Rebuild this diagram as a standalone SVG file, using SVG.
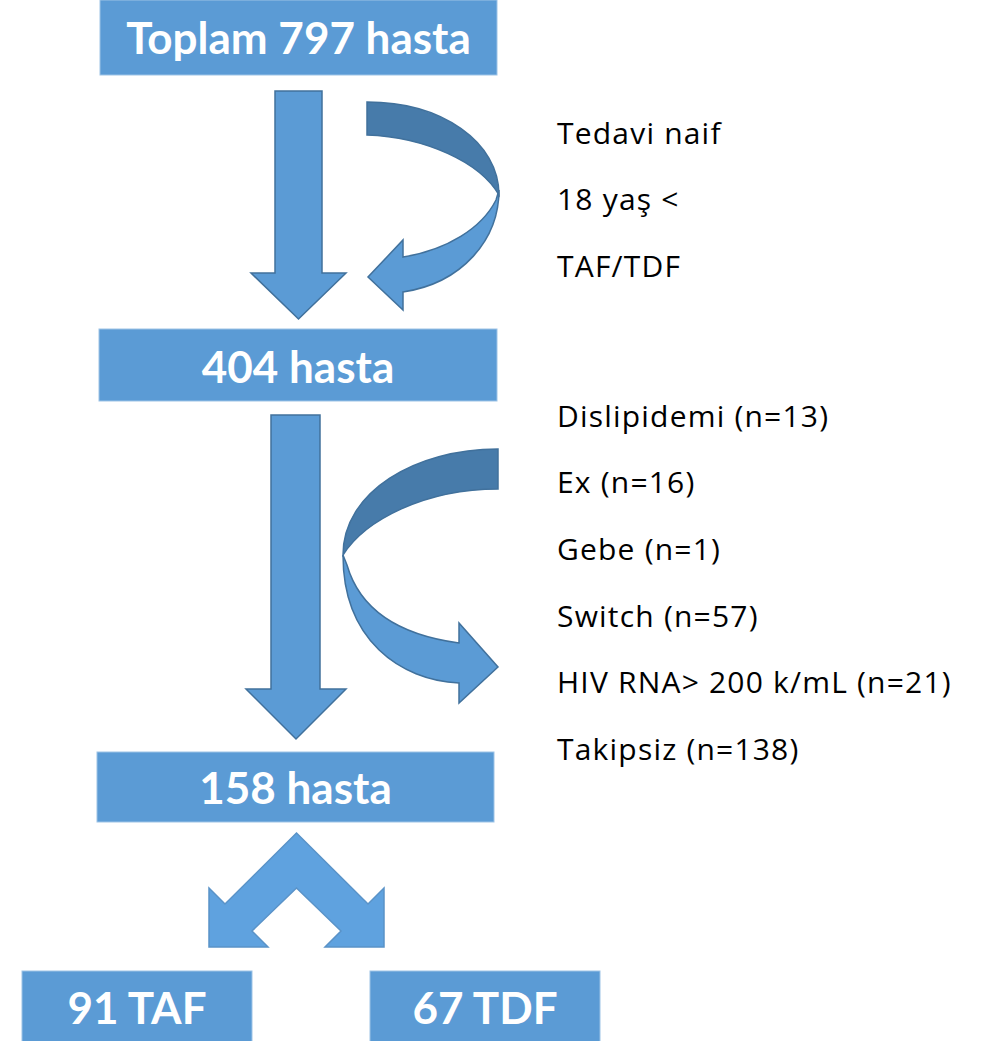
<svg xmlns="http://www.w3.org/2000/svg" width="1000" height="1041" viewBox="0 0 1000 1041">
<style>
.box{fill:#5B9BD5;stroke:#9DC3E6;stroke-width:1}
.bt{font-family:Lato,"Open Sans","Liberation Sans",sans-serif;font-weight:bold;font-size:44px;fill:#FFFFFF;text-anchor:middle}
.lbl{font-family:"Open Sans","Noto Sans","Liberation Sans",sans-serif;font-size:30px;fill:#000000;letter-spacing:1.2px}
.arr{fill:#5B9BD5;stroke:#41719C;stroke-width:1.5;stroke-linejoin:miter}
.dark{fill:#477BAA;stroke:#41719C;stroke-width:1.5}
.split{fill:#5FA2DF;stroke:#5A93C8;stroke-width:1.5}
</style>
<rect width="1000" height="1041" fill="#FFFFFF"/>
<g id="connectors">
  <path class="arr" d="M275,91 L322,91 L322,273 L346,273 L298.5,319 L251,273 L275,273 Z"/>
  <path class="dark" d="M367,102 C442,102 499,142 499,195 C480,162 425,137 367,135 Z"/>
  <path class="arr" d="M499,190 C499,240 462,283 403,292 L403,310 L368,277 L403,240 L403,257 C447,250 482,228 496,200 Z"/>
  <path class="arr" d="M271,415 L320,415 L320,689 L346,689 L296,739 L246,689 L271,689 Z"/>
  <path class="dark" d="M498,449 C415,449 343,492 343,555 C365,520 425,489 498,489 Z"/>
  <path class="arr" d="M343,555 C343,640 400,680 459,683 L459,703 L498,667 L459,623 L459,643 C400,635 360,610 347,565 Z"/>
  <path class="split" d="M296.5,833 L368,904 L384,888 L384,947 L325,947 L341,931 L296.5,888 L252,931 L268,947 L209,947 L209,888 L225,904 Z"/>
</g>
<g id="node-total">
  <rect class="box" x="100" y="0" width="397" height="75"/>
  <text class="bt" x="298.5" y="54">Toplam 797 hasta</text>
</g>
<g id="node-404">
  <rect class="box" x="99" y="329" width="398" height="72"/>
  <text class="bt" x="298" y="383">404 hasta</text>
</g>
<g id="node-158">
  <rect class="box" x="97" y="752" width="397" height="70"/>
  <text class="bt" x="295.5" y="804">158 hasta</text>
</g>
<g id="node-taf">
  <rect class="box" x="22" y="971" width="230" height="72"/>
  <text class="bt" x="137" y="1024">91 TAF</text>
</g>
<g id="node-tdf">
  <rect class="box" x="370" y="971" width="230" height="72"/>
  <text class="bt" x="485" y="1024">67 TDF</text>
</g>
<g id="exclusions-1">
  <text class="lbl" x="557" y="144">Tedavi naif</text>
  <text class="lbl" x="557" y="210">18 yaş &lt;</text>
  <text class="lbl" x="557" y="277">TAF/TDF</text>
</g>
<g id="exclusions-2">
  <text class="lbl" x="557" y="427">Dislipidemi  (n=13)</text>
  <text class="lbl" x="557" y="493">Ex (n=16)</text>
  <text class="lbl" x="557" y="560">Gebe (n=1)</text>
  <text class="lbl" x="557" y="627">Switch (n=57)</text>
  <text class="lbl" x="557" y="693">HIV RNA&gt; 200 k/mL (n=21)</text>
  <text class="lbl" x="557" y="760">Takipsiz (n=138)</text>
</g>
</svg>
